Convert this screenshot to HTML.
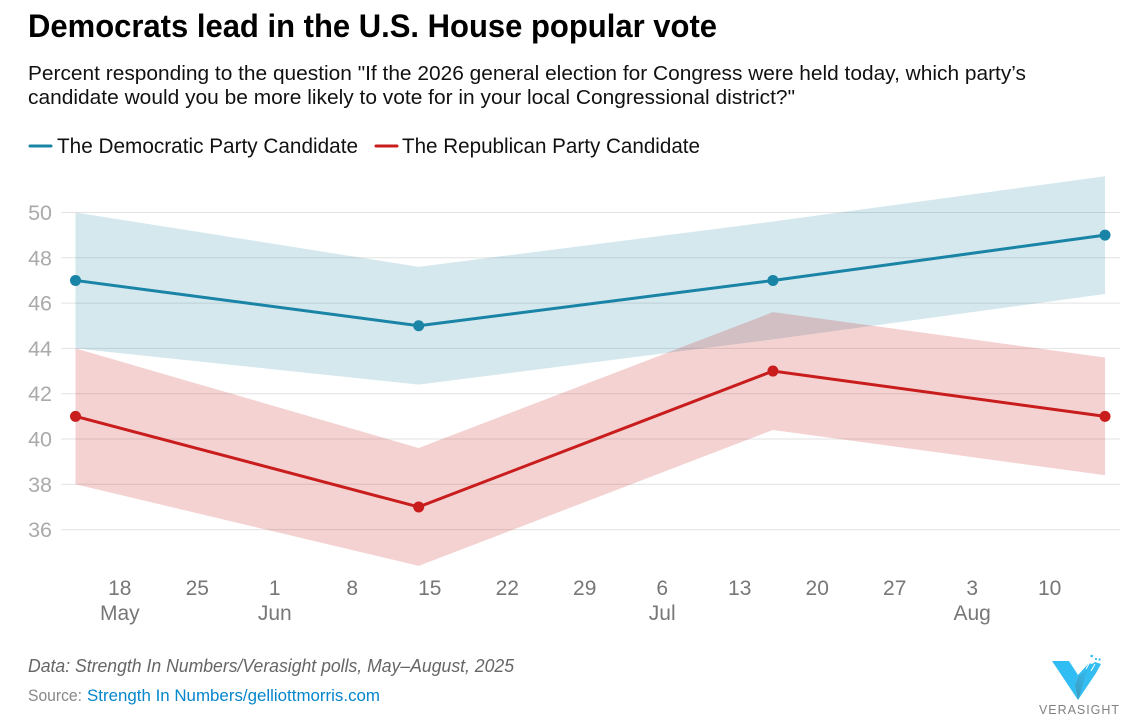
<!DOCTYPE html>
<html lang="en">
<head>
<meta charset="utf-8">
<title>Democrats lead in the U.S. House popular vote</title>
<style>
html,body{margin:0;padding:0;background:#fff;}
svg{display:block;font-family:"Liberation Sans",Arial,sans-serif;}
</style>
</head>
<body>
<svg id="chart" width="1122" height="715" viewBox="0 0 1122 715" xmlns="http://www.w3.org/2000/svg">
  <defs>
    <linearGradient id="lensGrad" x1="0" y1="1" x2="0.4" y2="0">
      <stop offset="0" stop-color="#3c97b5"/>
      <stop offset="1" stop-color="#36b4e4"/>
    </linearGradient>
  </defs>
  <text x="28" y="37" font-size="32" font-weight="700" fill="#000" textLength="689" lengthAdjust="spacingAndGlyphs">Democrats lead in the U.S. House popular vote</text>
  <text x="28" y="80" font-size="20.5" fill="#111" textLength="998" lengthAdjust="spacingAndGlyphs">Percent responding to the question "If the 2026 general election for Congress were held today, which party’s</text>
  <text x="28" y="104" font-size="20.5" fill="#111" textLength="767" lengthAdjust="spacingAndGlyphs">candidate would you be more likely to vote for in your local Congressional district?"</text>

  <line x1="30" x2="51" y1="146" y2="146" stroke="#1a84a6" stroke-width="3" stroke-linecap="round"/>
  <text x="57" y="153" font-size="21" fill="#111" textLength="301" lengthAdjust="spacingAndGlyphs">The Democratic Party Candidate</text>
  <line x1="376" x2="397" y1="146" y2="146" stroke="#c91d1d" stroke-width="3" stroke-linecap="round"/>
  <text x="402" y="153" font-size="21" fill="#111" textLength="298" lengthAdjust="spacingAndGlyphs">The Republican Party Candidate</text>

  <g id="grid"></g>
  <g id="yLabels"></g>
  <g id="bands"></g>
  <g id="lines"></g>
  <g id="xLabels"></g>

  <text x="28" y="672" font-size="18" font-style="italic" fill="#666" textLength="486" lengthAdjust="spacingAndGlyphs">Data: Strength In Numbers/Verasight polls, May–August, 2025</text>
  <text x="28" y="701" font-size="16.5" fill="#888" textLength="54" lengthAdjust="spacingAndGlyphs">Source:</text>
  <text x="87" y="701" font-size="16.5" fill="#0586cc" textLength="293" lengthAdjust="spacingAndGlyphs">Strength In Numbers/gelliottmorris.com</text>

  <g>
    <polygon points="1052,661 1069,661 1078,675 1075,685 1078,700" fill="#30bdf3"/>
    <polygon points="1078,700 1075,685 1078,675 1089,663 1092,664 1095,662 1101,664 1096,673" fill="#33bdf0"/>
    <polygon points="1078,700 1075,685 1078,676 1087,671" fill="url(#lensGrad)"/>
    <line x1="1086" y1="669" x2="1090" y2="662" stroke="#fff" stroke-width="1"/>
    <line x1="1091" y1="671" x2="1095" y2="664" stroke="#fff" stroke-width="1"/>
    <circle cx="1091.7" cy="656" r="1.3" fill="#30bdf3"/>
    <circle cx="1096" cy="659" r="1.1" fill="#30bdf3"/>
    <circle cx="1099.5" cy="659.5" r="1.1" fill="#30bdf3"/>
    <text x="1039" y="714" font-size="12.5" fill="#808080" textLength="80" lengthAdjust="spacing">VERASIGHT</text>
  </g>
</svg>
<script>
const pollDates = ['2025-05-14', '2025-06-14', '2025-07-16', '2025-08-15'];
const demValues = [47, 45, 47, 49];
const demUpper = [50, 47.6, 49.6, 51.6];
const demLower = [44, 42.4, 44.4, 46.4];
const repValues = [41, 37, 43, 41];
const repUpper = [44, 39.6, 45.6, 43.6];
const repLower = [38, 34.4, 40.4, 38.4];
const yTicks = [50, 48, 46, 44, 42, 40, 38, 36];
const xTickDates = ['2025-05-18', '2025-05-25', '2025-06-01', '2025-06-08', '2025-06-15', '2025-06-22', '2025-06-29', '2025-07-06', '2025-07-13', '2025-07-20', '2025-07-27', '2025-08-03', '2025-08-10'];
const xTickDays = ['18', '25', '1', '8', '15', '22', '29', '6', '13', '20', '27', '3', '10'];
const xTickMonths = ['May', '', 'Jun', '', '', '', '', 'Jul', '', '', '', 'Aug', ''];

const NS = 'http://www.w3.org/2000/svg';
const DAY = 86400000;
const X_ORIGIN = Date.UTC(2025, 4, 18);
function xScale(dateStr) {
  return 119.8 + (Date.parse(dateStr + 'T00:00:00Z') - X_ORIGIN) / DAY * 11.07;
}
function yScale(v) {
  return 212.5 + (50 - v) * 22.65;
}
function make(tag, attrs, parent) {
  const el = document.createElementNS(NS, tag);
  for (const k in attrs) el.setAttribute(k, attrs[k]);
  parent.appendChild(el);
  return el;
}
const grid = document.getElementById('grid');
const yLabels = document.getElementById('yLabels');
yTicks.forEach(function (t) {
  const ln = make('line', { x1: 61, x2: 1120, y1: yScale(t), y2: yScale(t), stroke: '#e2e2e2', 'stroke-width': 1 }, grid);
  
  
  const lb = make('text', { x: 52, y: yScale(t) + 7.5, 'text-anchor': 'end', 'font-size': 21.5, fill: '#aaaaaa' }, yLabels);
  
  
  lb.textContent = t;
});
function bandPoints(upper, lower) {
  const pts = [];
  pollDates.forEach(function (d, i) { pts.push(xScale(d) + ',' + yScale(upper[i])); });
  for (let i = pollDates.length - 1; i >= 0; i--) pts.push(xScale(pollDates[i]) + ',' + yScale(lower[i]));
  return pts.join(' ');
}
function linePoints(vals) {
  return pollDates.map(function (d, i) { return xScale(d) + ',' + yScale(vals[i]); }).join(' ');
}
const bands = document.getElementById('bands');
const demBand = make('polygon', { points: bandPoints(demUpper, demLower), fill: '#1a84a6', 'fill-opacity': 0.19 }, bands);


const repBand = make('polygon', { points: bandPoints(repUpper, repLower), fill: '#c91d1d', 'fill-opacity': 0.2 }, bands);



const lines = document.getElementById('lines');
const demLine = make('polyline', { points: linePoints(demValues), fill: 'none', stroke: '#1a84a6', 'stroke-width': 3 }, lines);


const repLine = make('polyline', { points: linePoints(repValues), fill: 'none', stroke: '#c91d1d', 'stroke-width': 3 }, lines);


demValues.forEach(function (v, i) {
  const c = make('circle', { cx: xScale(pollDates[i]), cy: yScale(v), r: 5.5, fill: '#1a84a6' }, lines);
  
  
});
repValues.forEach(function (v, i) {
  const c = make('circle', { cx: xScale(pollDates[i]), cy: yScale(v), r: 5.5, fill: '#c91d1d' }, lines);
  
  
});

const xLabels = document.getElementById('xLabels');
xTickDates.forEach(function (d, i) {
  const t = make('text', { x: xScale(d), y: 595, 'text-anchor': 'middle', 'font-size': 21, fill: '#777' }, xLabels);
  
  
  t.textContent = xTickDays[i];
  if (xTickMonths[i]) {
    const m = make('text', { x: xScale(d), y: 620, 'text-anchor': 'middle', 'font-size': 21, fill: '#777' }, xLabels);
    
    
    m.textContent = xTickMonths[i];
  }
});
</script>
</body>
</html>
